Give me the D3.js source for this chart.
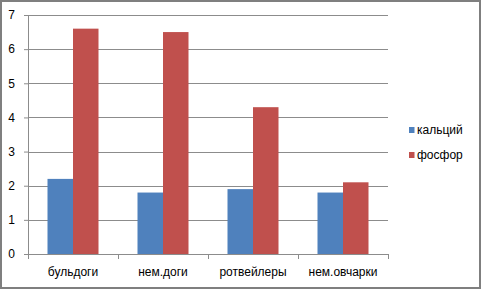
<!doctype html>
<html lang="ru">
<head>
<meta charset="utf-8">
<title></title>
<script src="https://d3js.org/d3.v7.min.js"></script>
<style type="text/css">
  body { margin:0; background:#fff; }
  text { font-family: "Liberation Sans", Arial, sans-serif; font-size:12px; fill:#000; }
  .grid line { stroke:#8c8c8c; stroke-width:1; }
</style>
</head>
<body>
<script type="text/javascript">

  var categories = ["бульдоги", "нем.доги", "ротвейлеры", "нем.овчарки"];
  var seriesNames = ["кальций", "фосфор"];
  var calcium = [2.2, 1.8, 1.9, 1.8];
  var phosphorus = [6.6, 6.5, 4.3, 2.1];
  var yTicks = [0, 1, 2, 3, 4, 5, 6, 7];
  var colors = ["#4f81bd", "#c0504d"];

  var W = 482, H = 290;
  var margin = {top:15, left:28, right:94, bottom:36};
  var width = W - margin.left - margin.right;
  var height = H - margin.top - margin.bottom;

  var svg = d3.select("body").append("svg")
    .attr("width", W).attr("height", H);

  // outer frame
  svg.append("rect")
    .attr("x", 1).attr("y", 1).attr("width", W - 3).attr("height", H - 3)
    .style("fill", "#fff").style("stroke", "#7f7f7f").style("stroke-width", 2);

  var g = svg.append("g")
    .attr("transform", "translate(" + margin.left + "," + margin.top + ")");

  var x0 = d3.scaleBand().domain(categories).range([0, width]).paddingInner(0).paddingOuter(0);
  var x1 = d3.scaleBand().domain(seriesNames).range([19.5, x0.bandwidth() - 19.5]);
  var y = d3.scaleLinear().domain([0, 7]).range([height, 0]);

  // gridlines
  g.append("g").attr("class", "grid")
    .selectAll("line").data(yTicks.filter(d => d > 0)).enter()
    .append("line")
    .attr("x1", 0).attr("x2", width)
    .attr("y1", d => Math.round(y(d)) + 0.5).attr("y2", d => Math.round(y(d)) + 0.5);

  var rows = categories.map((c, i) => ({cat:c, vals:[calcium[i], phosphorus[i]]}));

  g.selectAll(".grp").data(rows).enter()
    .append("g")
    .attr("transform", d => "translate(" + x0(d.cat) + ",0)")
    .selectAll("rect").data(d => d.vals.map((v, j) => ({name:seriesNames[j], v:v, j:j})))
    .enter().append("rect")
    .attr("x", d => x1(d.name))
    .attr("width", x1.bandwidth())
    .attr("y", d => y(d.v))
    .attr("height", d => y(0) - y(d.v))
    .style("fill", d => colors[d.j]);

  // y axis
  var yAxis = d3.axisLeft(y).tickValues(yTicks).tickFormat(d3.format("d")).tickSize(4).tickPadding(9);
  var ya = g.append("g").attr("class", "y axis").call(yAxis);
  ya.select(".domain").attr("stroke", "#8c8c8c");
  ya.selectAll(".tick line").attr("stroke", "#8c8c8c");
  ya.selectAll("text").attr("font-family", null).attr("font-size", null);

  // x axis
  var xa = g.append("g").attr("transform", "translate(0," + height + ")");
  xa.append("line").attr("x1", 0).attr("x2", width).attr("y1", 0.5).attr("y2", 0.5)
    .style("stroke", "#8c8c8c");
  xa.selectAll(".xt").data(d3.range(categories.length + 1)).enter()
    .append("line")
    .attr("x1", i => Math.round(i * x0.step()) + 0.5).attr("x2", i => Math.round(i * x0.step()) + 0.5)
    .attr("y1", 0).attr("y2", 5)
    .style("stroke", "#8c8c8c");
  xa.selectAll("text").data(categories).enter()
    .append("text")
    .attr("x", d => x0(d) + x0.bandwidth() / 2)
    .attr("y", 22)
    .attr("text-anchor", "middle")
    .text(d => d);

  // legend
  var leg = svg.append("g").attr("transform", "translate(409,127)");
  seriesNames.forEach((n, i) => {
    leg.append("rect").attr("x", 0).attr("y", i * 25).attr("width", 5.5).attr("height", 6)
      .style("fill", colors[i]);
    leg.append("text").attr("x", 8).attr("y", i * 25 + 7).text(n);
  });

</script>
</body>
</html>
